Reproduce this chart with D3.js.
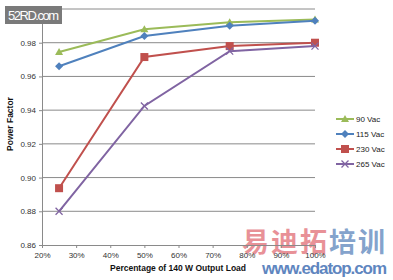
<!DOCTYPE html>
<html>
<head>
<meta charset="utf-8">
<script src="https://cdn.jsdelivr.net/npm/d3@7"></script>
<style>
  body { margin: 0; background: #fff; }
  text { font-family: "Liberation Sans", Arial, sans-serif; }
</style>
</head>
<body>
<svg id="chart" width="393" height="280"></svg>
<script>
const loads = [25, 50, 75, 100];
const xTicks = [20, 30, 40, 50, 60, 70, 80, 90, 100];
const yTicks = [0.86, 0.88, 0.90, 0.92, 0.94, 0.96, 0.98, 1.00];
const seriesNames = ['90 Vac', '115 Vac', '230 Vac', '265 Vac'];
const pf90 = [0.9745, 0.988, 0.9922, 0.9938];
const pf115 = [0.966, 0.984, 0.990, 0.993];
const pf230 = [0.8937, 0.9715, 0.978, 0.980];
const pf265 = [0.880, 0.9425, 0.975, 0.978];
const colors = ['#9BBB59', '#4F81BD', '#C0504D', '#8064A2'];
const markers = ['triangle', 'diamond', 'square', 'x'];

const svg = d3.select('#chart');
const x = d3.scaleLinear().domain([20, 100]).range([42, 315]);
const y = d3.scaleLinear().domain([0.86, 1.00]).range([245, 9]);

// edatop watermark (under the tick labels)
const wm = svg.append('text').attr('x', 242).attr('y', 252)
  .style('font-family', '"Noto Sans CJK SC"').style('font-size', '27px').style('font-weight', 'bold')
  .attr('textLength', 143).attr('opacity', 0.85);
wm.append('tspan').attr('fill', '#e57e86').text('易迪拓');
wm.append('tspan').attr('fill', '#6f93c4').text('培训');
svg.append('text').attr('x', 262).attr('y', 274).style('font-size', '17px').style('font-weight', 'bold')
  .attr('textLength', 125).attr('fill', '#5f86bf').text('www.edatop.com');

// gridlines
svg.append('g').selectAll('line').data(yTicks.slice(1)).join('line')
  .attr('x1', x(20)).attr('x2', x(100))
  .attr('y1', d => y(d)).attr('y2', d => y(d))
  .attr('stroke', '#8a8a8a').attr('stroke-width', 1);

// axes
const xAxis = svg.append('g').attr('transform', `translate(0,${y(0.86)})`)
  .call(d3.axisBottom(x).tickValues(xTicks).tickSize(3).tickFormat(d => d + '%'));
const yAxis = svg.append('g').attr('transform', `translate(${x(20)},0)`)
  .call(d3.axisLeft(y).tickValues(yTicks).tickSize(3).tickFormat(d3.format('.2f')));
[xAxis, yAxis].forEach(a => {
  a.select('.domain').attr('stroke', '#8a8a8a');
  a.selectAll('.tick line').attr('stroke', '#8a8a8a');
  a.selectAll('.tick text').attr('fill', '#333').style('font-size', '8px');
});
xAxis.selectAll('.tick text').attr('dy', '0.9em');

svg.append('text').attr('x', 178).attr('y', 271).attr('text-anchor', 'middle')
  .style('font-size', '8.5px').style('font-weight', 'bold').attr('fill', '#111')
  .text('Percentage of 140 W Output Load');
svg.append('text').attr('transform', 'translate(13,124) rotate(-90)').attr('text-anchor', 'middle')
  .style('font-size', '8.5px').style('font-weight', 'bold').attr('fill', '#111')
  .text('Power Factor');

function drawMarker(g, type, color, cx, cy) {
  if (type === 'triangle') {
    g.append('path').attr('d', `M${cx},${cy-4}L${cx+4},${cy+3}L${cx-4},${cy+3}Z`).attr('fill', color);
  } else if (type === 'diamond') {
    g.append('path').attr('d', `M${cx},${cy-4}L${cx+4},${cy}L${cx},${cy+4}L${cx-4},${cy}Z`).attr('fill', color);
  } else if (type === 'square') {
    g.append('rect').attr('x', cx - 4).attr('y', cy - 4).attr('width', 8).attr('height', 8).attr('fill', color);
  } else {
    g.append('path').attr('d', `M${cx-3.5},${cy-3.5}L${cx+3.5},${cy+3.5}M${cx+3.5},${cy-3.5}L${cx-3.5},${cy+3.5}`)
      .attr('stroke', color).attr('stroke-width', 1.3);
  }
}

const allSeries = [pf90, pf115, pf230, pf265];
const line = d3.line().x((d, i) => x(loads[i])).y(d => y(d));
allSeries.forEach((vals, s) => {
  const g = svg.append('g');
  g.append('path').datum(vals).attr('d', line).attr('fill', 'none')
    .attr('stroke', colors[s]).attr('stroke-width', 2);
  vals.forEach((v, i) => drawMarker(g, markers[s], colors[s], x(loads[i]), y(v)));
});

// legend
const legend = svg.append('g');
seriesNames.forEach((name, s) => {
  const ly = 119 + s * 15;
  legend.append('line').attr('x1', 336).attr('x2', 354).attr('y1', ly).attr('y2', ly)
    .attr('stroke', colors[s]).attr('stroke-width', 2);
  drawMarker(legend, markers[s], colors[s], 345, ly);
  legend.append('text').attr('x', 356).attr('y', ly + 3).style('font-size', '8px')
    .attr('fill', '#222').text(name);
});

// 52RD watermark (on top)
svg.append('rect').attr('x', 5).attr('y', 6).attr('width', 57).attr('height', 18).attr('fill', '#7a7a7a');
svg.append('text').attr('x', 8).attr('y', 20).style('font-size', '13px').attr('fill', '#fff')
  .attr('textLength', 51).text('52RD.com');
</script>
</body>
</html>
